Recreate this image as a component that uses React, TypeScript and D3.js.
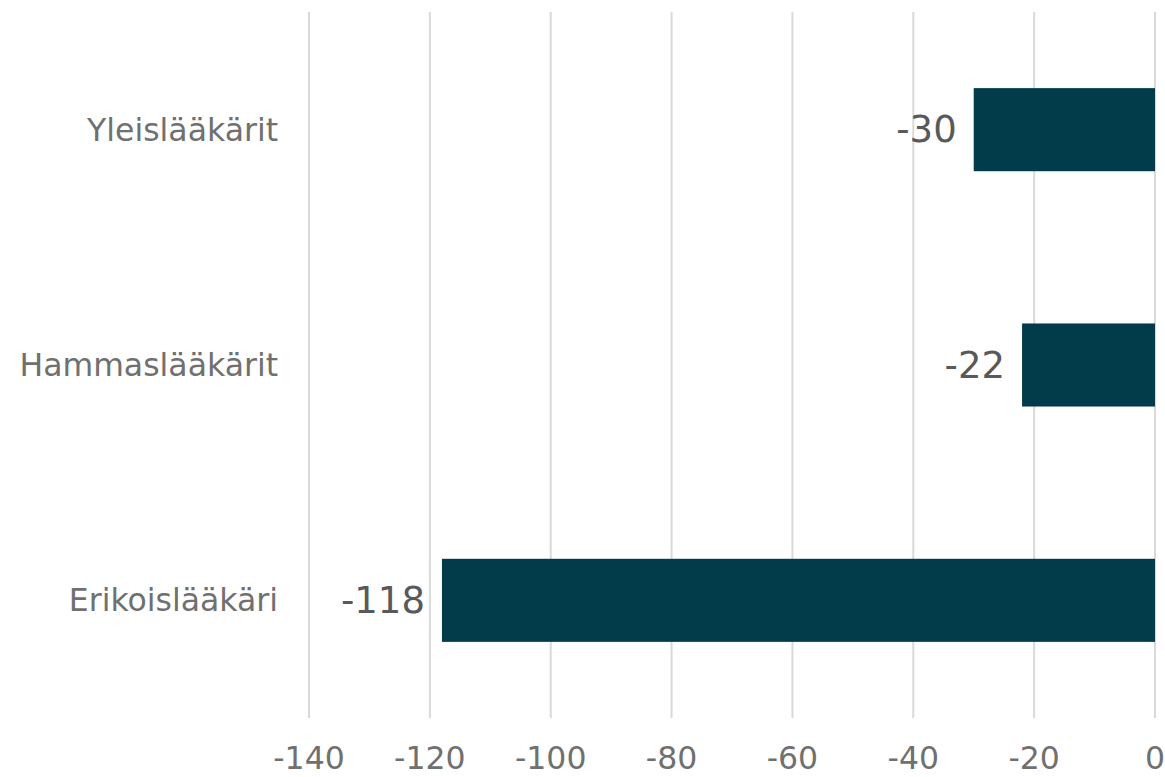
import React from 'react';
import * as d3 from 'd3';

const WIDTH = 1165;
const HEIGHT = 777;
const MARGIN = { top: 12, right: 10, bottom: 59, left: 309 };

const categories = ['Yleislääkärit', 'Hammaslääkärit', 'Erikoislääkäri'];
const values = [-30, -22, -118];
const xTicks = [-140, -120, -100, -80, -60, -40, -20, 0];

const BAR_COLOR = '#023c4b';
const FONT = '"DejaVu Sans", Verdana, sans-serif';

export default function App() {
  const boundsWidth = WIDTH - MARGIN.left - MARGIN.right;
  const boundsHeight = HEIGHT - MARGIN.top - MARGIN.bottom;

  const xScale = d3.scaleLinear().domain([-140, 0]).range([0, boundsWidth]);
  const yScale = d3
    .scaleBand()
    .domain(categories)
    .range([0, boundsHeight])
    .paddingInner(0.647)
    .paddingOuter(0.3235);

  const grid = xTicks.map((t) => (
    <g key={t}>
      <line x1={xScale(t)} x2={xScale(t)} y1={0} y2={boundsHeight} stroke="#d9d9d9" strokeWidth={2} />
      <text
        x={xScale(t)}
        y={boundsHeight + 40}
        textAnchor="middle"
        dominantBaseline="central"
        fontSize={31.5}
        fill="#707070"
      >
        {t}
      </text>
    </g>
  ));

  const bars = categories.map((c, i) => {
    const y = yScale(c) ?? 0;
    const v = values[i];
    const x0 = xScale(Math.min(0, v));
    const x1 = xScale(Math.max(0, v));
    const cy = y + yScale.bandwidth() / 2;
    return (
      <g key={c}>
        <rect x={x0} y={y} width={x1 - x0} height={yScale.bandwidth()} fill={BAR_COLOR} />
        <text x={x0 - 17} y={cy} textAnchor="end" dominantBaseline="central" fontSize={37} fill="#595959">
          {v}
        </text>
        <text x={-31} y={cy} textAnchor="end" dominantBaseline="central" fontSize={31.5} fill="#707070">
          {c}
        </text>
      </g>
    );
  });

  return (
    <svg
      width={WIDTH}
      height={HEIGHT}
      style={{ position: 'absolute', left: 0, top: 0, background: '#fff' }}
      fontFamily={FONT}
    >
      <g transform={`translate(${MARGIN.left},${MARGIN.top})`}>
        {grid}
        {bars}
      </g>
    </svg>
  );
}
